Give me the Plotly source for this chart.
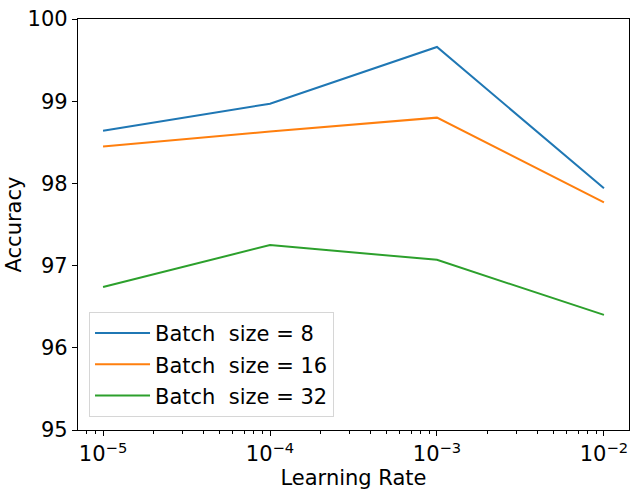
import plotly.graph_objects as go

learning_rates = [1e-5, 1e-4, 1e-3, 1e-2]
acc_bs8 = [98.64, 98.97, 99.66, 97.94]
acc_bs16 = [98.45, 98.63, 98.80, 97.77]
acc_bs32 = [96.74, 97.25, 97.07, 96.40]
series_names = ["Batch\u00a0 size = 8", "Batch\u00a0 size = 16", "Batch\u00a0 size = 32"]
series_colors = ["#1f77b4", "#ff7f0e", "#2ca02c"]
x_tickvals = [1e-5, 1e-4, 1e-3, 1e-2]
x_ticktext = ["10<sup>−5</sup>", "10<sup>−4</sup>", "10<sup>−3</sup>", "10<sup>−2</sup>"]
x_minor_tickvals = [m * d for d in [1e-6, 1e-5, 1e-4, 1e-3, 1e-2] for m in range(2, 10)]
y_tickvals = [95, 96, 97, 98, 99, 100]

fig = go.Figure()
for i, (name, ys, col) in enumerate(zip(series_names, [acc_bs8, acc_bs16, acc_bs32], series_colors)):
    fig.add_trace(go.Scatter(x=learning_rates, y=ys, mode="lines", name=name,
                             legendgroup=f"g{i}",
                             line=dict(color=col, width=2)))

font = "DejaVu Sans, Arial, sans-serif"
fig.update_layout(
    width=631, height=490,
    margin=dict(l=78, r=2, t=19, b=60, autoexpand=False),
    paper_bgcolor="white", plot_bgcolor="white",
    font=dict(family=font, size=21, color="black"),
    showlegend=True,
    legend=dict(x=0.02, y=0.032, xanchor="left", yanchor="bottom",
                bgcolor="rgba(255,255,255,0.8)", bordercolor="#d6d6d6", borderwidth=1,
                font=dict(size=21), tracegroupgap=1, itemwidth=55),
    xaxis=dict(type="log", range=[-5.15, -1.85], tickmode="array",
               tickvals=x_tickvals, ticktext=x_ticktext,
               showline=True, linecolor="black", linewidth=1.3, mirror=True,
               ticks="outside", ticklen=5, tickwidth=1.2, tickcolor="black",
               showgrid=False, zeroline=False, automargin=False,
               minor=dict(tickmode="array", tickvals=x_minor_tickvals,
                          ticks="outside", ticklen=3, tickwidth=1, tickcolor="black",
                          showgrid=False),
               title=dict(text="Learning Rate", font=dict(size=21), standoff=4),
               tickfont=dict(size=21)),
    yaxis=dict(range=[95, 100], tickvals=y_tickvals,
               showline=True, linecolor="black", linewidth=1.3, mirror=True,
               ticks="outside", ticklen=5, tickwidth=1.2, tickcolor="black",
               showgrid=False, zeroline=False, automargin=False,
               title=dict(text="Accuracy", font=dict(size=21), standoff=0),
               tickfont=dict(size=21)),
)
fig.write_html("out.html", config={"displayModeBar": False},
               post_script="document.body.style.margin='0';document.body.style.overflow='hidden';")
